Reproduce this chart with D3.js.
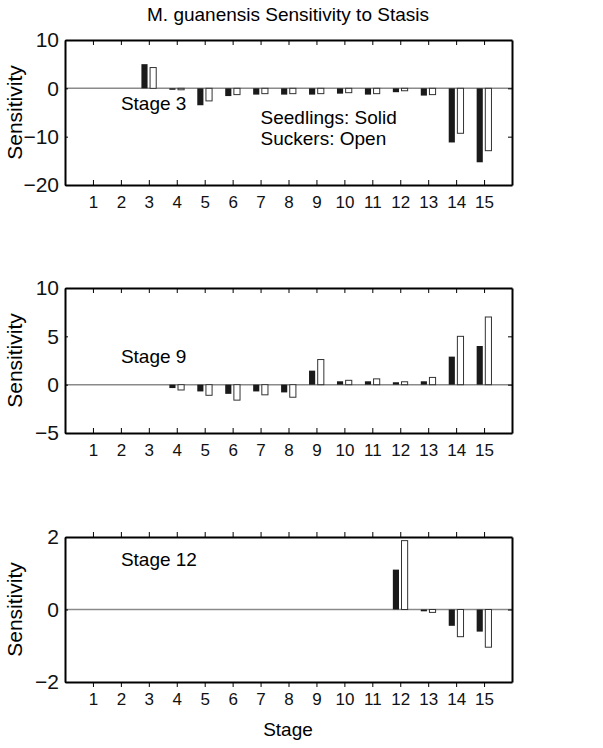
<!DOCTYPE html>
<html>
<head>
<meta charset="utf-8">
<script src="https://cdn.jsdelivr.net/npm/d3@7"></script>
<style>
  body { margin: 0; background: #fff; }
  svg { font-family: "Liberation Sans", Arial, sans-serif; }
  .axis path, .axis line { stroke: #000; }
  .axis text { fill: #111; }
</style>
</head>
<body>
<svg width="603" height="748"></svg>
<script>
// stages on the x axis
var stages = [1, 2, 3, 4, 5, 6, 7, 8, 9, 10, 11, 12, 13, 14, 15];

// sensitivity to stasis, perturbing stage 3
var s3Seedlings = [0, 0, 5.0, -0.3, -3.5, -1.6, -1.3, -1.3, -1.3, -1.1, -1.3, -0.8, -1.5, -11.2, -15.3];
var s3Suckers   = [0, 0, 4.3, -0.3, -2.6, -1.3, -1.1, -1.1, -1.1, -0.9, -1.1, -0.5, -1.3, -9.3, -12.9];

// perturbing stage 9
var s9Seedlings = [0, 0, 0, -0.35, -0.7, -0.95, -0.7, -0.8, 1.45, 0.35, 0.35, 0.25, 0.35, 2.9, 4.0];
var s9Suckers   = [0, 0, 0, -0.55, -1.1, -1.6, -1.05, -1.3, 2.6, 0.45, 0.6, 0.3, 0.75, 5.0, 7.0];

// perturbing stage 12
var s12Seedlings = [0, 0, 0, 0, 0, 0, 0, 0, 0, 0, 0, 1.1, -0.05, -0.45, -0.61];
var s12Suckers   = [0, 0, 0, 0, 0, 0, 0, 0, 0, 0, 0, 1.9, -0.08, -0.75, -1.04];

var yDomains = [[-20, 10], [-5, 10], [-2, 2]];
var yTicks = [[-20, -10, 0, 10], [-5, 0, 5, 10], [-2, 0, 2]];
var panelLabels = ["Stage 3", "Stage 9", "Stage 12"];

var svg = d3.select("svg");
var left = 65, right = 512;
var tops = [40, 288, 537], ph = 145;

var x = d3.scaleLinear().domain([0, 16]).range([left, right]);

var panels = [
  {seed: s3Seedlings, suck: s3Suckers, label: [2.0, -4.5]},
  {seed: s9Seedlings, suck: s9Suckers, label: [2.0, 2.2]},
  {seed: s12Seedlings, suck: s12Suckers, label: [2.0, 1.2]}
];

svg.append("text")
    .attr("x", 288).attr("y", 21)
    .attr("text-anchor", "middle")
    .style("font-size", "19px")
    .text("M. guanensis Sensitivity to Stasis");

panels.forEach(function(p, i) {
  var top = tops[i];
  var y = d3.scaleLinear().domain(yDomains[i]).range([top + ph, top]);
  var g = svg.append("g");
  var outward = i === 2;
  var bw = x(0.22) - x(0);

  // zero line
  g.append("line")
      .attr("x1", left).attr("x2", right)
      .attr("y1", y(0)).attr("y2", y(0))
      .attr("stroke", "#8a8a8a").attr("stroke-width", 1.5);

  // solid bars: seedlings
  g.selectAll(".seed").data(stages).enter().append("rect")
      .attr("class", "seed")
      .attr("x", function(d) { return x(d - 0.155) - bw / 2; })
      .attr("width", bw)
      .attr("y", function(d, j) { return y(Math.max(0, p.seed[j])); })
      .attr("height", function(d, j) { return Math.abs(y(p.seed[j]) - y(0)); })
      .attr("fill", "#1a1a1a");

  // open bars: suckers
  g.selectAll(".suck").data(stages).enter().append("rect")
      .attr("class", "suck")
      .attr("x", function(d) { return x(d + 0.155) - bw / 2; })
      .attr("width", bw)
      .attr("y", function(d, j) { return y(Math.max(0, p.suck[j])); })
      .attr("height", function(d, j) { return Math.abs(y(p.suck[j]) - y(0)); })
      .attr("fill", "#fff")
      .attr("stroke", function(d, j) { return p.suck[j] === 0 ? "none" : "#333"; })
      .attr("stroke-width", 1);

  // axes
  g.append("g").attr("class", "axis")
      .attr("transform", "translate(0," + (top + ph) + ")")
      .call(d3.axisBottom(x).tickValues(stages).tickSizeInner(outward ? 5 : -5)
        .tickSizeOuter(0).tickPadding(outward ? 6 : 11))
      .call(function(a) {
        a.select(".domain").attr("stroke-width", 2);
        a.selectAll("text").style("font-size", "17px");
      });

  g.append("g").attr("class", "axis")
      .attr("transform", "translate(0," + top + ")")
      .call(d3.axisTop(x).tickValues(stages).tickSizeInner(outward ? 5 : -5)
        .tickSizeOuter(0).tickFormat(""))
      .call(function(a) { a.select(".domain").attr("stroke-width", 2); });

  g.append("g").attr("class", "axis")
      .attr("transform", "translate(" + left + ",0)")
      .call(d3.axisLeft(y).tickValues(yTicks[i]).tickFormat(d3.format("d"))
        .tickSizeInner(-3).tickSizeOuter(0).tickPadding(6))
      .call(function(a) {
        a.select(".domain").attr("stroke-width", 2);
        a.selectAll("text").style("font-size", "21px");
      });

  g.append("g").attr("class", "axis")
      .attr("transform", "translate(" + right + ",0)")
      .call(d3.axisRight(y).tickValues(yTicks[i]).tickSizeInner(-4)
        .tickSizeOuter(0).tickFormat(""))
      .call(function(a) { a.select(".domain").attr("stroke-width", 2); });

  svg.append("text")
      .attr("transform", "translate(22," + (top + ph / 2) + ") rotate(-90)")
      .attr("text-anchor", "middle")
      .style("font-size", "21px")
      .text("Sensitivity");

  g.append("text")
      .attr("x", x(p.label[0])).attr("y", y(p.label[1]))
      .style("font-size", "19px")
      .text(panelLabels[i]);
});

// legend note in the first panel
var y1 = d3.scaleLinear().domain(yDomains[0]).range([tops[0] + ph, tops[0]]);
svg.append("text").attr("x", x(7.0)).attr("y", y1(-7.4))
    .style("font-size", "19px").text("Seedlings: Solid");
svg.append("text").attr("x", x(7.0)).attr("y", y1(-11.8))
    .style("font-size", "19px").text("Suckers: Open");

svg.append("text")
    .attr("x", 288).attr("y", 736)
    .attr("text-anchor", "middle")
    .style("font-size", "19px")
    .text("Stage");
</script>
</body>
</html>
